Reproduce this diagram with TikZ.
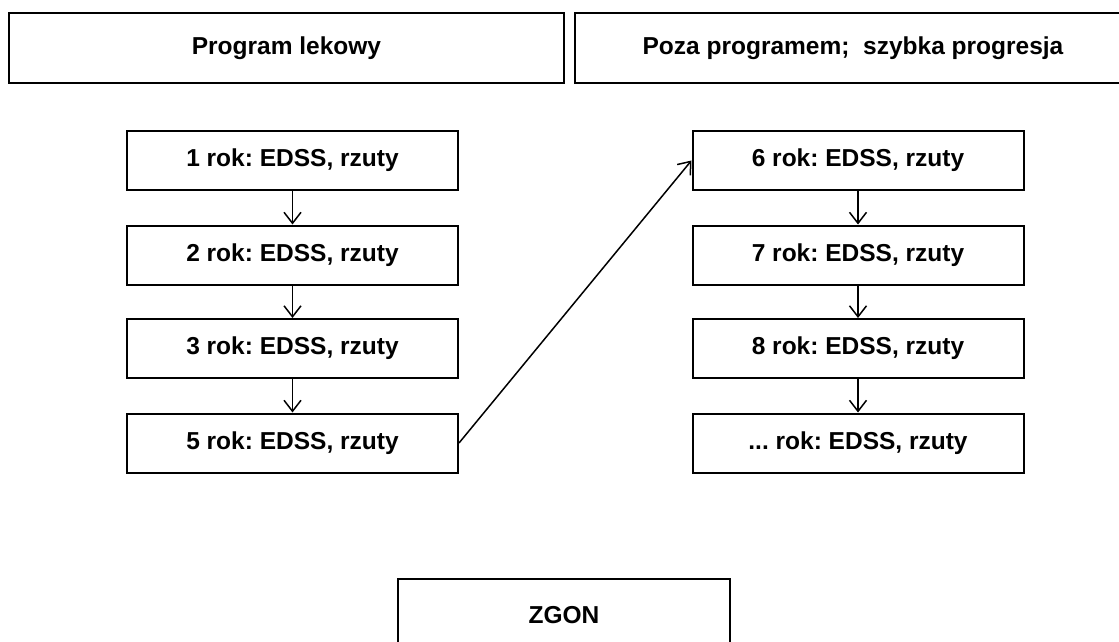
\documentclass[tikz,border=0pt]{standalone}
\usepackage{fontspec}
\setmainfont{Liberation Sans}
\usetikzlibrary{arrows.meta}
\frenchspacing
\begin{document}
\begin{tikzpicture}[x=1pt,y=-1pt,
  every node/.style={font=\fontsize{24.5}{28}\selectfont\bfseries, inner sep=0pt},
  header/.style={draw, line width=2.7pt, minimum width=555pt, minimum height=70pt},
  yearbox/.style={draw, line width=2pt, minimum width=331pt, minimum height=59pt},
  endbox/.style={draw, line width=2.5pt, minimum width=332pt, minimum height=72pt},
  flow/.style={line width=1.5pt, -{Straight Barb[length=11pt,width=17pt,line width=1.5pt]}}]
\clip (0,0) rectangle (1119,642);
\fill[white] (0,0) rectangle (1119,642);
\node[header] (h1) at (286.5,48) {Program lekowy};
\node[header, minimum width=556pt] (h2) at (853,48) {Poza programem;~ szybka progresja};
\node[yearbox] (a1) at (292.5,160.5) {1 rok: EDSS, rzuty};
\node[yearbox] (a2) at (292.5,255) {2 rok: EDSS, rzuty};
\node[yearbox] (a3) at (292.5,348.5) {3 rok: EDSS, rzuty};
\node[yearbox] (a4) at (292.5,443) {5 rok: EDSS, rzuty};
\node[yearbox] (b1) at (858,160.5) {6 rok: EDSS, rzuty};
\node[yearbox] (b2) at (858,255) {7 rok: EDSS, rzuty};
\node[yearbox] (b3) at (858,348.5) {8 rok: EDSS, rzuty};
\node[yearbox] (b4) at (858,443) {... rok: EDSS, rzuty};
\node[endbox] (z) at (564,615) {ZGON};
\draw[flow] (a1) -- (a2);
\draw[flow] (a2) -- (a3);
\draw[flow] (a3) -- (a4);
\draw[flow] (b1) -- (b2);
\draw[flow] (b2) -- (b3);
\draw[flow] (b3) -- (b4);
\draw[flow] (a4.east) -- (b1.west);
\end{tikzpicture}
\end{document}
